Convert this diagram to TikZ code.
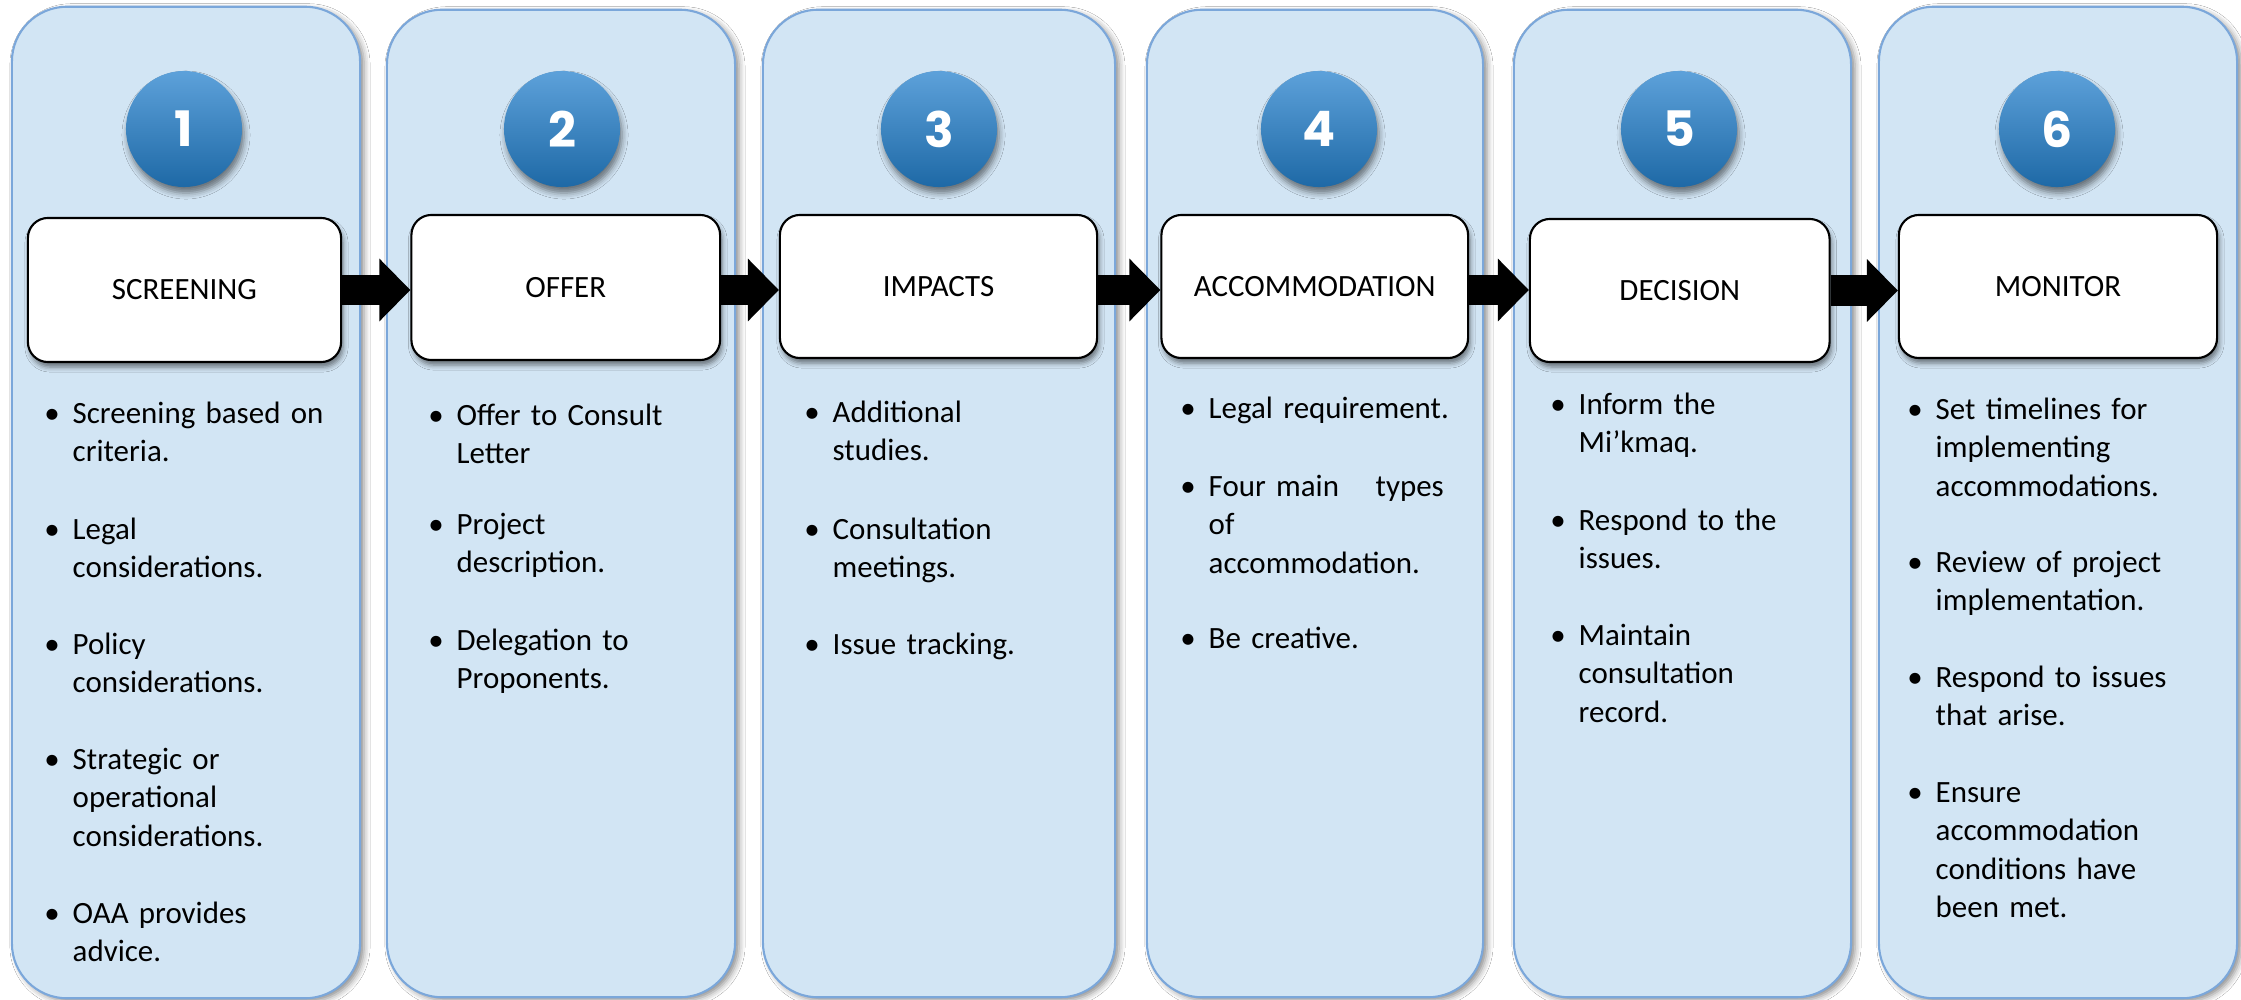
\documentclass[tikz,border=0pt]{standalone}
\usepackage{fontspec}
\setmainfont{Carlito}
\newfontfamily\numfont{Poppins}
\usetikzlibrary{shadows.blur,arrows.meta}
\definecolor{panelfill}{HTML}{D2E5F4}
\definecolor{panelline}{HTML}{7BA7DA}
\definecolor{circtop}{HTML}{5DA1DA}
\definecolor{circbot}{HTML}{1E69A6}
\tikzset{
 panel/.style={draw=panelline, line width=0.6pt, fill=panelfill, rounded corners=0.55cm, inner sep=0,
   blur shadow={shadow xshift=0.04cm, shadow yshift=-0.03cm, shadow blur radius=0.06cm, shadow opacity=45}},
 numcirc/.style={circle, minimum size=1.16cm, inner sep=0, top color=circtop, bottom color=circbot,
   text=white, font=\numfont\bfseries\fontsize{13.9pt}{14pt}\selectfont,
   blur shadow={shadow xshift=0.02cm, shadow yshift=-0.06cm, shadow blur radius=0.06cm, shadow opacity=50}},
 stage/.style={draw=black, line width=0.6pt, fill=white, rounded corners=0.2cm, inner sep=0,
   font=\fontsize{8.8pt}{10pt}\selectfont,
   blur shadow={shadow xshift=0.02cm, shadow yshift=-0.05cm, shadow blur radius=0.05cm, shadow opacity=50}},
 bul/.style={anchor=base, inner sep=0, font=\fontsize{8.8pt}{10.95pt}\selectfont},
 itm/.style={anchor=base west, inner sep=0, align=left, text width=2.9cm, font=\fontsize{8.8pt}{10.95pt}\selectfont},
 flow/.style={line width=0.3cm, -{Triangle[length=0.31cm, width=0.61cm]}}
}
\newcommand\bitem[5][]{%
  \node[bul] (#2b) at (#3-20,#4) {\textbullet};
  \node[itm,#1] (#2) at (#3,#4) {#5};}
\begin{document}
\begin{tikzpicture}[x=0.01cm, y=-0.01cm]
\path[use as bounding box, fill=white] (0,0) rectangle (2241,1000);
% panels
\node[panel, minimum width=3.48cm, minimum height=9.91cm] (p1) at (186,502.5) {};
\node[panel, minimum width=3.48cm, minimum height=9.87cm] (p2) at (561,503.5) {};
\node[panel, minimum width=3.52cm, minimum height=9.87cm] (p3) at (939,503.5) {};
\node[panel, minimum width=3.36cm, minimum height=9.87cm] (p4) at (1315,503.5) {};
\node[panel, minimum width=3.37cm, minimum height=9.87cm] (p5) at (1682.5,503.5) {};
\node[panel, minimum width=3.58cm, minimum height=9.91cm] (p6) at (2058,502.5) {};
% number circles
\node[numcirc] (c1) at (184,129) {1};
\node[numcirc] (c2) at (562,129) {2};
\node[numcirc] (c3) at (939,129) {3};
\node[numcirc] (c4) at (1319,129) {4};
\node[numcirc] (c5) at (1679,129) {5};
\node[numcirc] (c6) at (2057,129) {6};
% stage boxes
\node[stage, minimum width=3.13cm, minimum height=1.44cm] (s1) at (184.5,290) {SCREENING};
\node[stage, minimum width=3.085cm, minimum height=1.45cm] (s2) at (565.75,287.5) {OFFER};
\node[stage, minimum width=3.17cm, minimum height=1.43cm] (s3) at (938.5,286.5) {IMPACTS};
\node[stage, minimum width=3.065cm, minimum height=1.43cm] (s4) at (1314.75,286.5) {ACCOMMODATION};
\node[stage, minimum width=2.995cm, minimum height=1.43cm] (s5) at (1679.75,290.5) {DECISION};
\node[stage, minimum width=3.18cm, minimum height=1.43cm] (s6) at (2058,286.5) {MONITOR};
% arrows
\draw[flow] (s1.east) -- (s1.east -| s2.west);
\draw[flow] (s2.east) ++(0,2.5) coordinate (a2) (a2) -- (a2 -| s3.west);
\draw[flow] (s3.east) ++(0,3.5) coordinate (a3) (a3) -- (a3 -| s4.west);
\draw[flow] (s4.east) ++(0,3.5) coordinate (a4) (a4) -- (a4 -| s5.west);
\draw[flow] (s5.east) -- (s5.east -| s6.west);
% panel 1
\bitem{i11}{72}{423}{Screening based on\\criteria.}
\bitem{i12}{72}{539}{Legal\\considerations.}
\bitem{i13}{72}{654}{Policy\\considerations.}
\bitem{i14}{72}{769}{Strategic or\\operational\\considerations.}
\bitem{i15}{72}{923}{OAA provides\\advice.}
% panel 2
\bitem{i21}{456}{425}{Offer to Consult\\Letter}
\bitem{i22}{456}{534}{Project\\description.}
\bitem{i23}{456}{650}{Delegation to\\Proponents.}
% panel 3
\bitem{i31}{832}{422}{Additional\\studies.}
\bitem{i32}{832}{539}{Consultation\\meetings.}
\bitem{i33}{832}{654}{Issue tracking.}
% panel 4
\bitem{i41}{1208}{418}{Legal requirement.}
\bitem[text width=2.35cm]{i42}{1208}{496}{Four main\hfill types\\of\\accommodation.}
\bitem{i43}{1208}{648}{Be creative.}
% panel 5
\bitem{i51}{1578}{414}{Inform the\\Mi’kmaq.}
\bitem{i52}{1578}{530}{Respond to the\\issues.}
\bitem{i53}{1578}{645}{Maintain\\consultation\\record.}
% panel 6
\bitem{i61}{1935}{419}{Set timelines for\\implementing\\accommodations.}
\bitem{i62}{1935}{572}{Review of project\\implementation.}
\bitem{i63}{1935}{687}{Respond to issues\\that arise.}
\bitem{i64}{1935}{802}{Ensure\\accommodation\\conditions have\\been met.}
\end{tikzpicture}
\end{document}
